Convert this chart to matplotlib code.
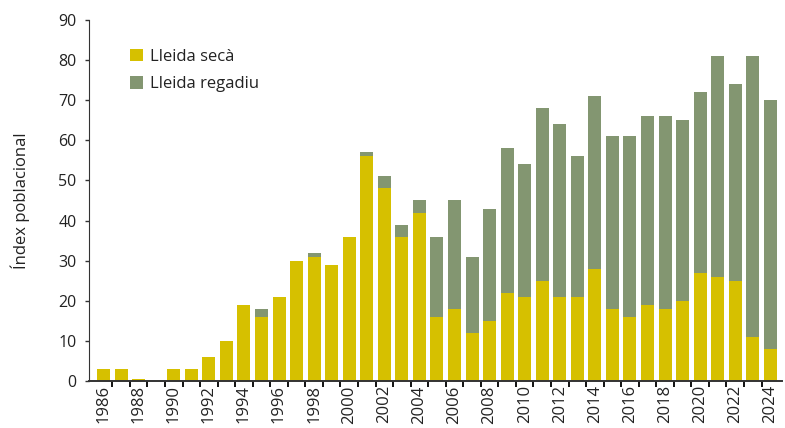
import numpy as np
import matplotlib
matplotlib.use("Agg")
import matplotlib.pyplot as plt
from matplotlib.patches import Patch

# Índex poblacional per any, Lleida secà i Lleida regadiu (apilat)
years = list(range(1986, 2025))
seca = [3, 3, 0.5, 0, 3, 3, 6, 10, 19, 16,
        21, 30, 31, 29, 36, 56, 48, 36, 42, 16,
        18, 12, 15, 22, 21, 25, 21, 21, 28, 18,
        16, 19, 18, 20, 27, 26, 25, 11, 8]
total = [3, 3, 0.5, 0, 3, 3, 6, 10, 19, 18,
         21, 30, 32, 29, 36, 57, 51, 39, 45, 36,
         45, 31, 43, 58, 54, 68, 64, 56, 71, 61,
         61, 66, 66, 65, 72, 81, 74, 81, 70]
regadiu = [t - s for t, s in zip(total, seca)]

SECA_COLOR = "#D6C000"
REG_COLOR = "#839671"
TEXT_COLOR = "#222222"

plt.rcParams["font.family"] = ["Open Sans", "DejaVu Sans"]

fig = plt.figure(figsize=(7.85, 4.28), dpi=100)
ax = fig.add_axes([0.1134, 0.1098, 0.8826, 0.8435])

x = np.arange(len(years))
ax.bar(x, seca, width=0.74, color=SECA_COLOR, linewidth=0)
ax.bar(x, regadiu, width=0.74, bottom=seca, color=REG_COLOR, linewidth=0)

ax.set_xlim(-0.83, len(years) - 0.34)
ax.set_ylim(0, 90)
ax.set_yticks(range(0, 91, 10))

# labels every other year, tick marks between the bars
ax.set_xticks(x[::2])
ax.set_xticklabels([str(y) for y in years[::2]], rotation=90)
ax.set_xticks(np.arange(0.5, len(years) - 0.5, 1), minor=True)
ax.tick_params(axis="x", which="major", length=0, pad=3,
               labelsize=12, labelcolor=TEXT_COLOR)
ax.tick_params(axis="x", which="minor", length=4, width=1.4,
               color="#111111", direction="out")
ax.tick_params(axis="y", length=3, width=1, color="#333333",
               labelsize=11.5, labelcolor=TEXT_COLOR, pad=6)

for side in ["top", "right"]:
    ax.spines[side].set_visible(False)
ax.spines["left"].set_color("#333333")
ax.spines["bottom"].set_color("#333333")
ax.spines["bottom"].set_linewidth(1.4)

ax.set_ylabel("Índex poblacional", fontsize=12, color=TEXT_COLOR, labelpad=20)

handles = [Patch(facecolor=SECA_COLOR, label="Lleida secà"),
           Patch(facecolor=REG_COLOR, label="Lleida regadiu")]
ax.legend(handles=handles, loc="upper left", bbox_to_anchor=(0.038, 0.962),
          frameon=False, fontsize=12, handlelength=0.75, handleheight=0.75,
          handletextpad=0.4, labelspacing=0.7, labelcolor=TEXT_COLOR)

fig.savefig("out.png", dpi=100)
